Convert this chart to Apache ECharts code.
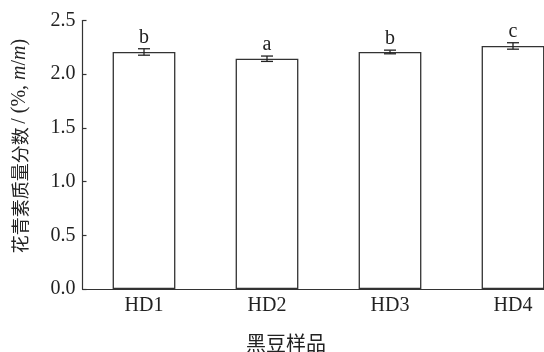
<!DOCTYPE html>
<html><head><meta charset="utf-8">
<script src="https://cdn.jsdelivr.net/npm/echarts/dist/echarts.min.js"></script>
<style>html,body{margin:0;padding:0;background:#fff}#c{width:544px;height:352px}</style>
</head><body><div id="c"></div>
<script>
var categories = ['HD1', 'HD2', 'HD3', 'HD4'];
var values = [2.207, 2.144, 2.207, 2.263];
var errors = [0.030, 0.025, 0.017, 0.030];
var letters = ['b', 'a', 'b', 'c'];
var yTicks = [0, 0.5, 1.0, 1.5, 2.0, 2.5];

var serif = '"Liberation Serif","Times New Roman",serif';
var cjk = '"Noto Sans CJK SC",serif';
var axisColor = '#333';

var chart = echarts.init(document.getElementById('c'), null, {renderer: 'canvas'});
var errData = categories.map(function (c, i) { return [i, values[i], errors[i], letters[i]]; });
chart.setOption({
  animation: false,
  backgroundColor: '#fff',
  grid: {left: 82.5, top: 20.5, width: 492, height: 268.5, containLabel: false, outerBoundsMode: 'none'},
  xAxis: {
    type: 'category', data: categories,
    axisLine: {lineStyle: {color: axisColor, width: 1.2}},
    axisTick: {inside: true, alignWithLabel: true, length: 4, lineStyle: {color: axisColor, width: 1.2}},
    axisLabel: {color: '#222', fontFamily: serif, fontSize: 20, margin: 7},
    splitLine: {show: false}
  },
  yAxis: {
    type: 'value', min: 0, max: 2.5, interval: 0.5,
    axisLine: {show: true, lineStyle: {color: axisColor, width: 1.2}},
    axisTick: {show: true, inside: true, length: 4, lineStyle: {color: axisColor, width: 1.2}},
    axisLabel: {color: '#222', fontFamily: serif, fontSize: 20, margin: 7,
      formatter: function (v) { return v.toFixed(1); }},
    splitLine: {show: false}
  },
  graphic: [{
    type: 'text', x: 20, y: 146, rotation: Math.PI / 2,
    style: {
      text: '{c|花青素质量分数} {s|/ (%, }{i|m}{s|/}{i|m}{s|)}',
      textAlign: 'center', textVerticalAlign: 'middle',
      rich: {
        c: {fontFamily: cjk, fontSize: 18, fill: '#222', color: '#222'},
        s: {fontFamily: serif, fontSize: 20, fill: '#222', color: '#222'},
        i: {fontFamily: serif, fontSize: 20, fontStyle: 'italic', fill: '#222', color: '#222'}
      }
    }
  }, {
    type: 'text', x: 286, y: 343,
    style: {text: '黑豆样品', font: '20px "Noto Sans CJK SC", serif', fill: '#222',
      textAlign: 'center', textVerticalAlign: 'middle'}
  }],
  series: [{
    type: 'bar', data: values, barWidth: '51%',
    itemStyle: {color: '#fff', borderColor: '#333', borderWidth: 1.3},
    z: 2
  }, {
    type: 'custom', data: errData, z: 3,
    renderItem: function (params, api) {
      var i = api.value(0), v = api.value(1), e = api.value(2);
      var top = api.coord([i, v + e]);
      var bot = api.coord([i, v - e]);
      var x = top[0], hw = 6;
      var st = {stroke: '#222', lineWidth: 1.3};
      return {type: 'group', children: [
        {type: 'line', shape: {x1: x, y1: top[1], x2: x, y2: bot[1]}, style: st},
        {type: 'line', shape: {x1: x - hw, y1: top[1], x2: x + hw, y2: top[1]}, style: st},
        {type: 'line', shape: {x1: x - hw, y1: bot[1], x2: x + hw, y2: bot[1]}, style: st},
        {type: 'text', x: x, y: top[1] - 1, style: {text: letters[params.dataIndex],
          font: '20px ' + serif, fill: '#222', textAlign: 'center', textVerticalAlign: 'bottom'}}
      ]};
    }
  }]
});
</script></body></html>
